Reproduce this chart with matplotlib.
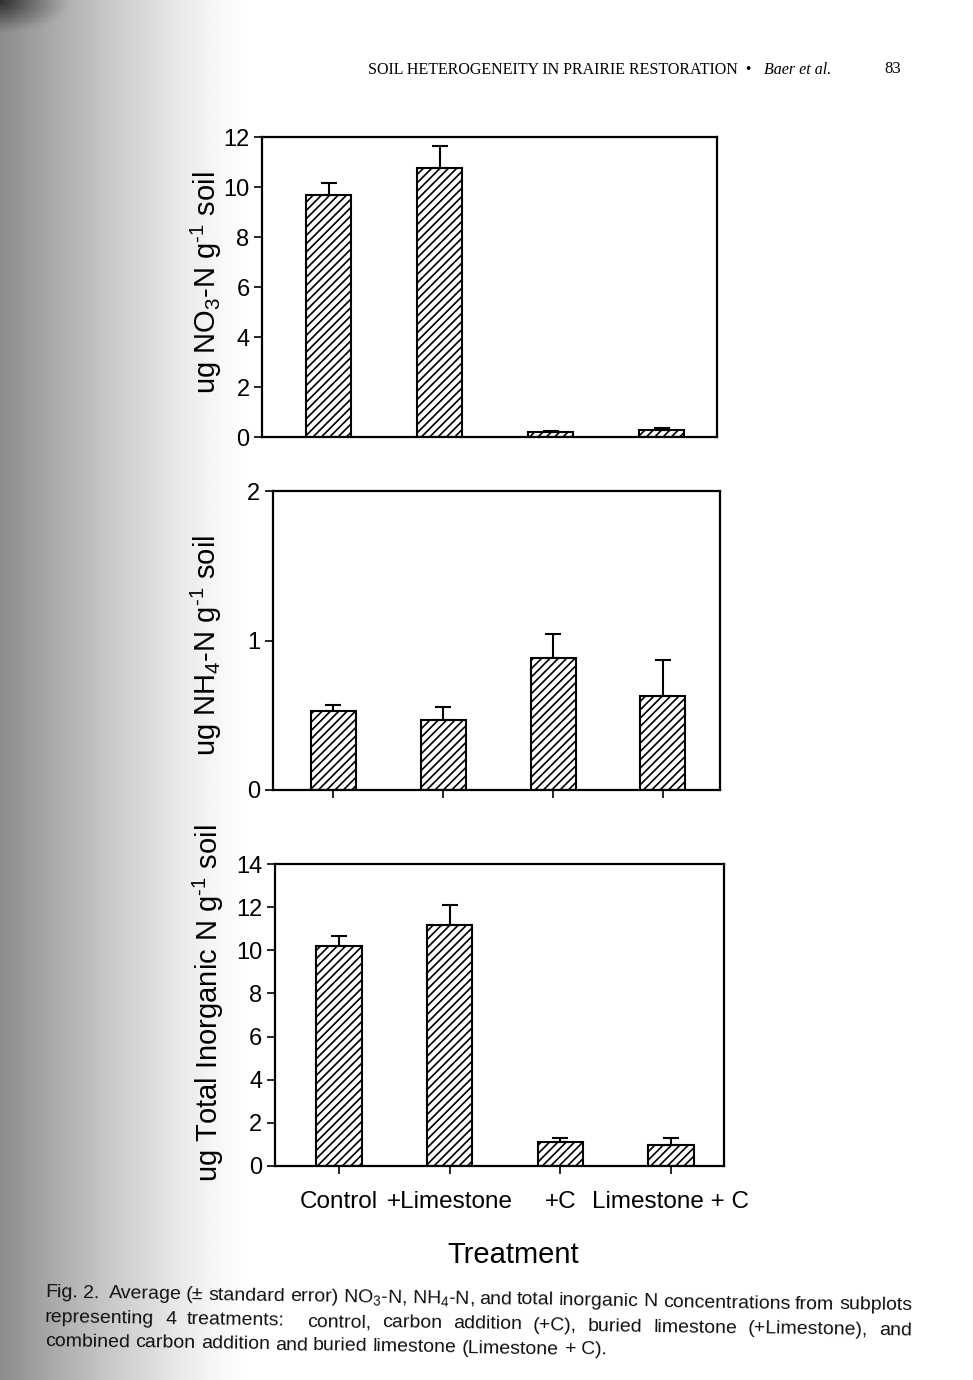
import numpy as np
import matplotlib

matplotlib.use("Agg")
import matplotlib.pyplot as plt

plt.rcParams["font.family"] = ["Liberation Sans", "DejaVu Sans"]
plt.rcParams["mathtext.fontset"] = "custom"
plt.rcParams["mathtext.rm"] = "Liberation Sans"
plt.rcParams["mathtext.it"] = "Liberation Sans:italic"
plt.rcParams["mathtext.bf"] = "Liberation Sans:bold"
plt.rcParams["hatch.linewidth"] = 1.2

# Treatments in plotting order
TREATMENTS = ["Control", "+Limestone", "+C", "Limestone + C"]

# Means and standard errors
NO3_MEAN = [9.70, 10.75, 0.20, 0.28]
NO3_SE = [0.48, 0.90, 0.04, 0.08]
NH4_MEAN = [0.53, 0.47, 0.885, 0.63]
NH4_SE = [0.04, 0.085, 0.16, 0.24]
TOTAL_MEAN = [10.19, 11.17, 1.12, 0.98]
TOTAL_SE = [0.45, 0.91, 0.17, 0.31]

CAPTION = [
    "Fig. 2.  Average (\u00b1 standard error) NO$_3$-N, NH$_4$-N, and total inorganic N concentrations from subplots",
    "representing 4 treatments:  control, carbon addition (+C), buried limestone (+Limestone), and",
    "combined carbon addition and buried limestone (Limestone + C).",
]

W, H = 973, 1380


def px_box(left, top, right, bottom):
    return [left / W, 1 - bottom / H, (right - left) / W, (bottom - top) / H]


def bar_panel(ax, means, ses, ymax, yticks, xlim, xticks_on):
    x = np.arange(len(means))
    ax.bar(x, means, width=0.41, color="white", edgecolor="black",
           linewidth=1.5, hatch="////", zorder=2)
    ax.errorbar(x, means, yerr=[np.zeros(len(ses)), ses], fmt="none",
                ecolor="black", elinewidth=1.5, capsize=6, capthick=1.5, zorder=3)
    ax.set_ylim(0, ymax)
    ax.set_xlim(*xlim)
    ax.set_yticks(yticks)
    ax.tick_params(axis="y", direction="out", length=6, width=1.2, pad=3,
                   labelsize=17)
    if xticks_on:
        ax.set_xticks(x)
        ax.tick_params(axis="x", direction="out", length=6, width=1.2)
    else:
        ax.set_xticks([])
    ax.set_xticklabels([])
    for s in ax.spines.values():
        s.set_linewidth(1.6)
    ax.set_facecolor("white")


def text_width(fig, renderer, s, size):
    t = fig.text(0, 0, s, fontsize=size)
    w = t.get_window_extent(renderer).width
    t.remove()
    return w


def caption_line(fig, renderer, text, x0, x1, y0, angle, size, justify):
    """Draw words along a slightly tilted baseline, stretched to x0..x1 if justify."""
    words = text.split(" ")
    widths = [text_width(fig, renderer, w, size) if w else 0.0 for w in words]
    gaps = len(words) - 1
    if justify and gaps:
        gap = (x1 - x0 - sum(widths)) / gaps
    else:
        gap = text_width(fig, renderer, "a a", size) - 2 * text_width(fig, renderer, "a", size)
    slope = np.tan(np.radians(angle))
    d = 0.0
    for w, wd in zip(words, widths):
        if w:
            fig.text((x0 + d) / W, 1 - (y0 - d * slope) / H, w, fontsize=size,
                     ha="left", va="baseline", rotation=angle,
                     rotation_mode="anchor", color="#111111")
        d += wd + gap


fig = plt.figure(figsize=(W / 100, H / 100), dpi=100)
renderer = fig.canvas.get_renderer()

# scan shadow along the binding on the left
bg = fig.add_axes([0, 0, 1, 1], zorder=-10)
xx = np.linspace(0, W, 400)
yy = np.linspace(0, H, 300)
X, Y = np.meshgrid(xx, yy)
shade = np.clip(1 - X / 250, 0, 1) ** 1.3 * 115
corner = np.clip(1 - np.hypot(X / 70, Y / 30), 0, 1) * 90
gray = np.clip(255 - shade - corner, 0, 255) / 255
bg.imshow(gray, cmap="gray", vmin=0, vmax=1, extent=[0, W, H, 0], aspect="auto")
bg.set_axis_off()

ax1 = fig.add_axes(px_box(262, 137, 717, 437))
bar_panel(ax1, NO3_MEAN, NO3_SE, 12, [0, 2, 4, 6, 8, 10, 12], (-0.6, 3.5), False)

ax2 = fig.add_axes(px_box(273, 491, 720, 790))
bar_panel(ax2, NH4_MEAN, NH4_SE, 2, [0, 1, 2], (-0.55, 3.52), True)

ax3 = fig.add_axes(px_box(275, 864, 724, 1166))
bar_panel(ax3, TOTAL_MEAN, TOTAL_SE, 14, [0, 2, 4, 6, 8, 10, 12, 14], (-0.58, 3.48), True)
ax3.set_xticklabels(TREATMENTS, fontsize=17.5)
ax3.tick_params(axis="x", pad=12)

# y-axis titles
sup = "g$^{\\text{-}1}$"
fig.text(206 / W, 1 - 283 / H, "ug NO$_3$-N " + sup + " soil", rotation=90,
         ha="center", va="center", fontsize=21)
fig.text(206 / W, 1 - 645 / H, "ug NH$_4$-N " + sup + " soil", rotation=90,
         ha="center", va="center", fontsize=21)
fig.text(208 / W, 1 - 1003 / H, "ug Total Inorganic N " + sup + " soil", rotation=90,
         ha="center", va="center", fontsize=21)

fig.text(513 / W, 1 - 1255 / H, "Treatment", ha="center", va="center", fontsize=21)

# running header
serif = ["Liberation Serif", "DejaVu Serif"]
fig.text(368 / W, 1 - 70 / H, "SOIL HETEROGENEITY IN PRAIRIE RESTORATION  \u2022  ",
         ha="left", va="center", fontsize=11.5, family=serif)
fig.text(764 / W, 1 - 70 / H, "Baer et al.", ha="left", va="center", fontsize=11.5,
         style="italic", family=serif)
fig.text(893 / W, 1 - 69 / H, "83", ha="center", va="center", fontsize=12, family=serif)

# caption, justified like the printed page and tilted as in the scan
for i, (line, y) in enumerate(zip(CAPTION, [1297, 1322, 1346])):
    caption_line(fig, renderer, line, 45, 912, y, -0.9, 14, justify=(i < 2))

fig.savefig("out.png", dpi=100)
